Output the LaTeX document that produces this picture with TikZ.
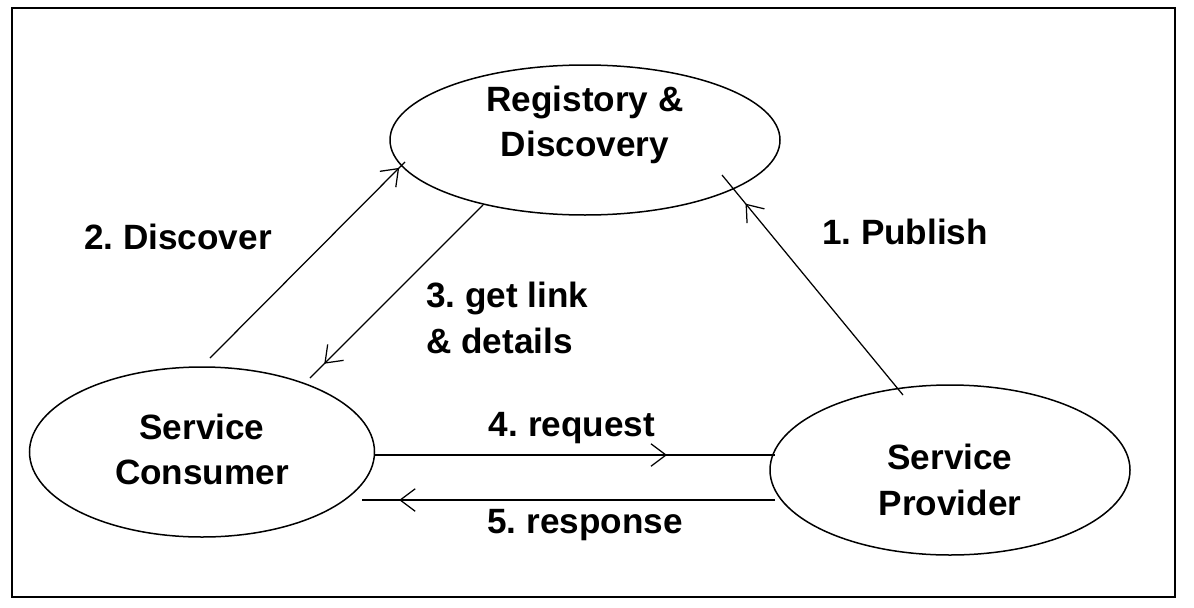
\documentclass[tikz,border=0pt]{standalone}
\usepackage{fontspec}
\setmainfont{Liberation Sans}
\frenchspacing
\usetikzlibrary{arrows.meta,decorations.markings,shapes.geometric}
\tikzset{
  party/.style={draw, line width=0.03cm, ellipse, inner sep=0pt},
  lbl/.style={font=\fontsize{20}{26}\selectfont\bfseries, align=center},
  flow/.style={line width=0.025cm},
  tipat/.style={postaction={decorate}, decoration={markings,
     mark=at position #1 with {\arrow{Straight Barb[length=3mm,width=4.5mm]}}}}
}
\begin{document}
\begin{tikzpicture}
% frame
\draw [line width=0.04cm] (0.24,0.2) rectangle (23.5,11.98);
\useasboundingbox (0,0) rectangle (23.88,12.14);

% parties
\node [party, minimum width=7.8cm, minimum height=3.0cm] (reg) at (11.7,9.34) {};
\node [lbl] at ([yshift=0.3cm]reg) {Registory \&\\Discovery};
\node [party, minimum width=6.9cm, minimum height=3.4cm] (cons) at (4.04,3.1) {};
\node [lbl] at ([yshift=0.05cm]cons) {Service\\Consumer};
\node [party, minimum width=7.2cm, minimum height=3.4cm] (prov) at (19.0,2.74) {};
\node [lbl] at ([yshift=-0.2cm]prov) {Service\\Provider};

% end points
\coordinate (d0) at (4.2,4.98);
\coordinate (d1) at (8.1,8.9);
\coordinate (g0) at (9.66,8.04);
\coordinate (g1) at (6.2,4.58);
\coordinate (p0) at (18.06,4.24);
\coordinate (p1) at (14.44,8.64);
\coordinate (q0) at (7.5,3.04);
\coordinate (q1) at (15.5,3.04);
\coordinate (r0) at (15.5,2.14);
\coordinate (r1) at (7.24,2.14);

% connectors
\draw [flow, tipat=0.97] (d0) -- (d1);
\draw [flow, tipat=0.92] (g0) -- (g1);
\draw [flow, tipat=0.87] (p0) -- (p1);
\draw [flow, tipat=0.73] (q0) -- (q1);
\draw [flow, tipat=0.91] (r0) -- (r1);

% labels
\node [lbl] at (3.56,7.4) {2. Discover};
\node [lbl] at (18.1,7.5) {1. Publish};
\node [lbl, align=left, anchor=west] at (8.4,5.78) {3. get link\\\& details};
\node [lbl] at (11.44,3.58) {4. request};
\node [lbl] at (11.7,1.64) {5. response};
\end{tikzpicture}
\end{document}
